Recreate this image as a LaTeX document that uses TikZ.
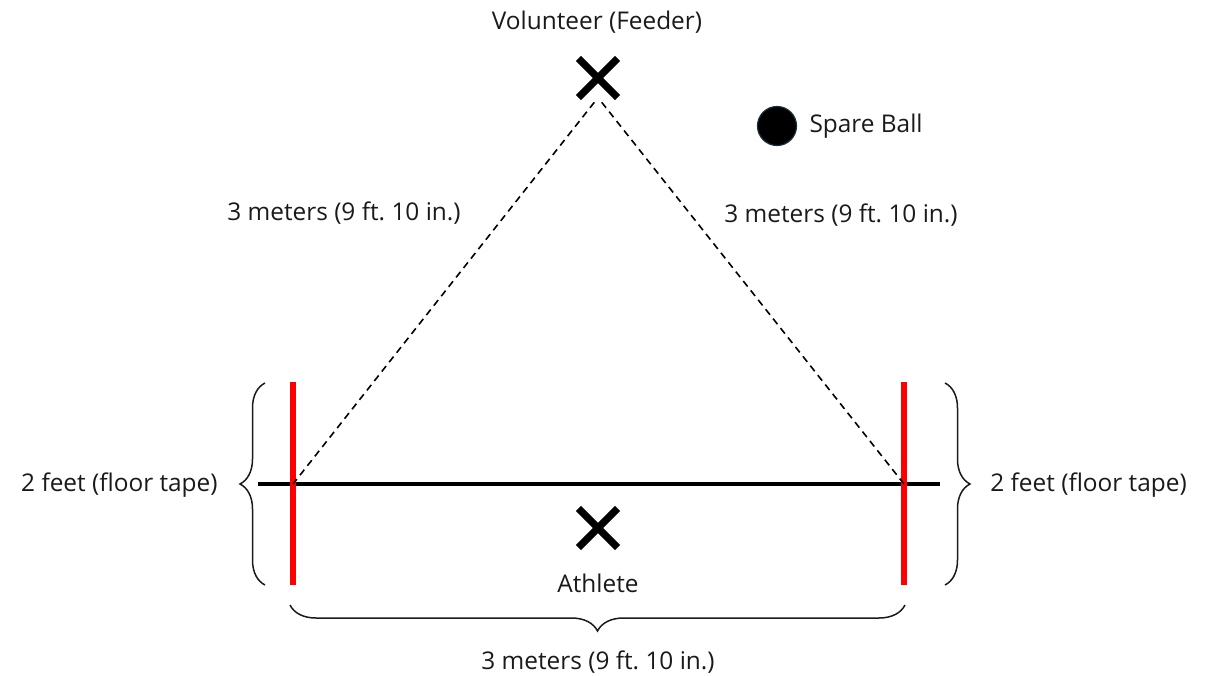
\documentclass[tikz,border=0pt]{standalone}
\usepackage{fontspec}
\setmainfont{Open Sans}
\frenchspacing
\usetikzlibrary{shapes.misc,decorations.pathreplacing,positioning}
\definecolor{tpRed}{HTML}{FF0000}
\definecolor{tpInk}{HTML}{1A1A1A}
\definecolor{tpNavy}{HTML}{17303F}
\tikzset{
 court/.style={font=\fontsize{12.2}{14}\selectfont,text=tpInk,line cap=butt},
 crossmark/.style={cross out,draw=black,line width=3.6pt,inner sep=0pt,minimum size=16pt},
 ball/.style={circle,fill=black,draw=tpNavy,line width=.6pt,inner sep=0pt,minimum size=19.5pt},
 tape/.style={draw=tpRed,line width=2.6pt},
 floorline/.style={draw=black,line width=2pt},
 sight/.style={draw=black,line width=.8pt,dash pattern=on 3.5pt off 2.5pt},
 bracket/.style={draw=tpInk,line width=.75pt,decorate,decoration={brace,amplitude=#1}},
 tag/.style={inner sep=1pt}
}
\begin{document}
\begin{tikzpicture}[court,x=.5pt,y=-.5pt]
 \useasboundingbox (0,0) rectangle (1205,675);
 % people and ball
 \node[tag] (feederlbl) at (597,22) {Volunteer (Feeder)};
 \node[crossmark] (feeder) at (598,78) {};
 \node[crossmark] (athlete) at (598,528) {};
 \node[tag] (athletelbl) at (598,583) {Athlete};
 \node[ball] (ball) at (777,126) {};
 \node[tag,right=5pt of ball] (balllbl) {Spare Ball};
 % tape marks
 \coordinate (tapeLtop) at (293,382); \coordinate (tapeLbot) at (293,585);
 \coordinate (tapeRtop) at (904,382); \coordinate (tapeRbot) at (904,585);
 \coordinate (lineL) at (258,484); \coordinate (lineR) at (940,484);
 \coordinate (hitL) at (293,484); \coordinate (hitR) at (904,484);
 \draw[floorline] (lineL) -- (lineR);
 \draw[tape] (tapeLtop) -- (tapeLbot);
 \draw[tape] (tapeRtop) -- (tapeRbot);
 % distances
 \draw[sight,shorten <=3pt] (feeder.south) -- (hitL);
 \draw[sight,shorten <=3pt] (feeder.south) -- (hitR);
 \node[tag] (leftdist) at (344,213) {3 meters (9 ft. 10 in.)};
 \node[tag] (rightdist) at (841,215) {3 meters (9 ft. 10 in.)};
 \draw[bracket=12.5pt] (265,585) -- (265,383);
 \draw[bracket=12.5pt] (945,383) -- (945,585);
 \draw[bracket=13pt] (905,605) -- (290,605);
 \node[tag,anchor=east] (lefttape) at (220,485) {2 feet (floor tape)};
 \node[tag,anchor=west] (righttape) at (988,485) {2 feet (floor tape)};
 \node[tag] (basedist) at (598,662) {3 meters (9 ft. 10 in.)};
\end{tikzpicture}
\end{document}
